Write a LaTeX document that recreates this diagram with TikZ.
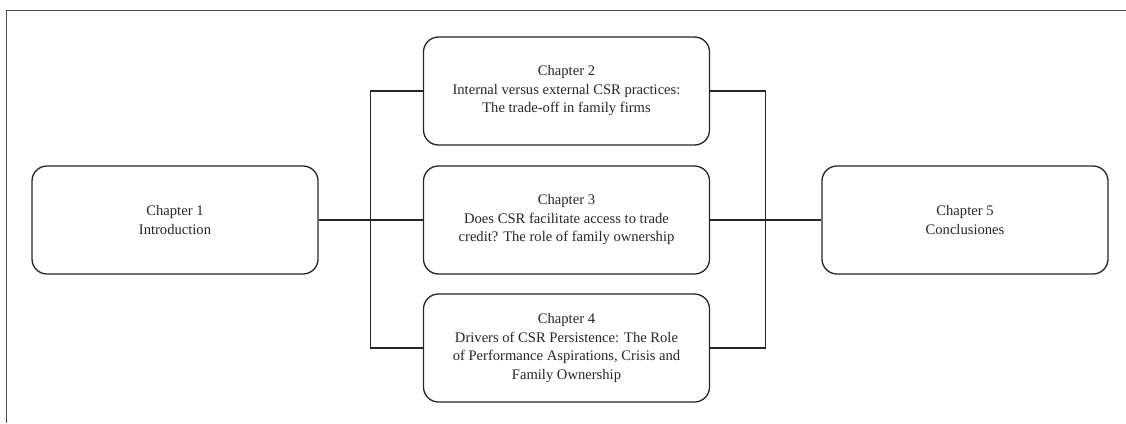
\documentclass[tikz,border=0pt]{standalone}
\usepackage{fontspec}
\setmainfont{Liberation Serif}
\usetikzlibrary{positioning}
\usetikzlibrary{calc}

\begin{document}
\begin{tikzpicture}
    [
    x=1pt, y=-1pt,
    node distance=129pt and 395pt,
    on grid,
    every chapter/.style={draw=black!85, line width=1.3pt, rounded corners=15pt,
        minimum width=286pt, minimum height=108pt, align=center,
        text=black!85, font=\fontsize{14.6}{18.5}\selectfont},
    link/.style={draw=black!85, line width=1.3pt},
    frame/.style={draw=black!70, line width=1pt},
    ]

    \useasboundingbox (0,0) rectangle (1126,423);
    \draw[frame] (6,423) -- (6,10) -- (1126,10);

    \node[every chapter] (ch_3) at (566.5,220)
    {Chapter 3\\Does CSR facilitate access to trade\\credit? The role of family ownership};

    \node[every chapter, above = of ch_3] (ch_2)
    {Chapter 2\\Internal versus external CSR practices:\\The trade-off in family firms};

    \node[every chapter, below = 128pt of ch_3] (ch_4)
    {Chapter 4\\Drivers of CSR Persistence: The Role\\of Performance Aspirations, Crisis and\\Family Ownership};

    \node[every chapter, left = 391.5pt of ch_3] (ch_1)
    {Chapter 1\\Introduction};

    \node[every chapter, right = 398.5pt of ch_3] (ch_5)
    {Chapter 5\\Conclusiones};

    \coordinate (bus_left) at ($(ch_1.east)!0.5!(ch_3.west)$);
    \coordinate (bus_right) at ($(ch_3.east)!0.5!(ch_5.west)$);

    \draw[link] (ch_1.east) -- (ch_3.west);
    \draw[link] (ch_2.west) -| (bus_left) |- (ch_4.west);
    \draw[link] (ch_3.east) -- (ch_5.west);
    \draw[link] (ch_2.east) -| (bus_right) |- (ch_4.east);
\end{tikzpicture}
\end{document}
